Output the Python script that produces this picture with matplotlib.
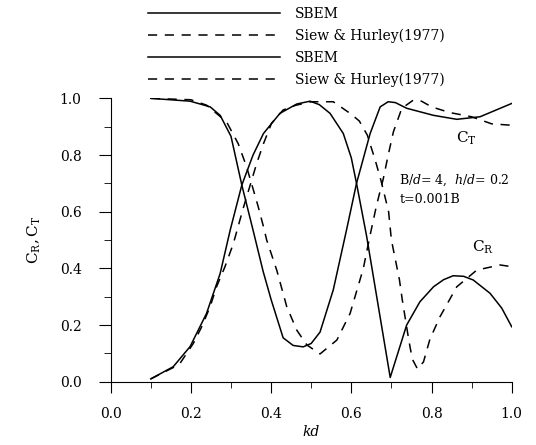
#!/usr/bin/env python3
import matplotlib

matplotlib.use("Agg")
import matplotlib.pyplot as plt
from matplotlib.ticker import MultipleLocator

plt.rcParams["font.family"] = "DejaVu Serif"
plt.rcParams["mathtext.fontset"] = "dejavuserif"

# SBEM, reflection coefficient
KD_CR_SBEM = [0.10, 0.156, 0.198, 0.239, 0.273, 0.298, 0.327, 0.355, 0.381, 0.422, 0.464,
              0.497, 0.520, 0.547, 0.580, 0.600, 0.613, 0.638, 0.697, 0.738, 0.771,
              0.805, 0.830, 0.854, 0.880, 0.904, 0.946, 0.975, 1.00]
CR_SBEM = [0.010, 0.053, 0.124, 0.241, 0.382, 0.535, 0.694, 0.800, 0.876, 0.947, 0.980,
           0.990, 0.978, 0.947, 0.876, 0.790, 0.700, 0.515, 0.015, 0.200, 0.282,
           0.335, 0.360, 0.374, 0.372, 0.359, 0.312, 0.260, 0.194]

# SBEM, transmission coefficient
KD_CT_SBEM = [0.10, 0.198, 0.248, 0.273, 0.300, 0.327, 0.355, 0.380, 0.400, 0.430, 0.455,
              0.480, 0.500, 0.522, 0.555, 0.588, 0.613, 0.647, 0.672, 0.692, 0.710,
              0.738, 0.805, 0.863, 0.921, 1.00]
CT_SBEM = [1.000, 0.990, 0.970, 0.940, 0.866, 0.694, 0.535, 0.390, 0.290, 0.155, 0.128,
           0.123, 0.135, 0.175, 0.324, 0.535, 0.700, 0.876, 0.970, 0.988, 0.985,
           0.965, 0.940, 0.926, 0.935, 0.982]

# Siew & Hurley (1977), reflection coefficient
KD_CR_SH = [0.10, 0.156, 0.173, 0.206, 0.227, 0.248, 0.264, 0.285, 0.306, 0.330, 0.347,
            0.364, 0.381, 0.401, 0.430, 0.460, 0.500, 0.555, 0.597, 0.620, 0.640,
            0.660, 0.674, 0.693, 0.700, 0.710, 0.720, 0.727, 0.743, 0.752, 0.765,
            0.780, 0.796, 0.821, 0.863, 0.913, 0.971, 1.00]
CR_SH = [0.010, 0.050, 0.065, 0.135, 0.194, 0.265, 0.335, 0.406, 0.488, 0.610, 0.690,
         0.770, 0.840, 0.912, 0.959, 0.975, 0.988, 0.988, 0.947, 0.920, 0.870,
         0.780, 0.710, 0.600, 0.500, 0.430, 0.360, 0.290, 0.150, 0.080, 0.045,
         0.070, 0.150, 0.229, 0.335, 0.394, 0.412, 0.406]

# Siew & Hurley (1977), transmission coefficient
KD_CT_SH = [0.10, 0.200, 0.239, 0.289, 0.318, 0.339, 0.356, 0.368, 0.381, 0.389, 0.414,
            0.439, 0.464, 0.489, 0.522, 0.564, 0.597, 0.630, 0.647, 0.663, 0.680,
            0.692, 0.705, 0.726, 0.755, 0.775, 0.800, 0.845, 0.900, 0.950, 1.00]
CT_SH = [1.000, 0.995, 0.976, 0.917, 0.840, 0.758, 0.676, 0.617, 0.547, 0.500, 0.394,
         0.265, 0.182, 0.130, 0.098, 0.147, 0.241, 0.400, 0.518, 0.623, 0.718,
         0.800, 0.882, 0.965, 0.994, 0.990, 0.970, 0.950, 0.935, 0.910, 0.905]

DASH = (0, (6, 5))


def main():
    fig = plt.figure(figsize=(5.36, 4.45), dpi=100)
    ax = fig.add_axes([0.2065, 0.1422, 0.7482, 0.6368])

    l1, = ax.plot(KD_CR_SBEM, CR_SBEM, color="black", lw=1.1)
    l2, = ax.plot(KD_CR_SH, CR_SH, color="black", lw=1.1, linestyle=DASH)
    l3, = ax.plot(KD_CT_SBEM, CT_SBEM, color="black", lw=1.1)
    l4, = ax.plot(KD_CT_SH, CT_SH, color="black", lw=1.1, linestyle=DASH)

    ax.set_xlim(0, 1.0)
    ax.set_ylim(0, 1.0)
    ax.spines["top"].set_visible(False)
    ax.spines["right"].set_visible(False)
    ax.xaxis.set_major_locator(MultipleLocator(0.2))
    ax.xaxis.set_minor_locator(MultipleLocator(0.1))
    ax.yaxis.set_major_locator(MultipleLocator(0.2))
    ax.yaxis.set_minor_locator(MultipleLocator(0.1))
    ax.xaxis.set_major_formatter(lambda v, p: f"{v:.1f}")
    ax.yaxis.set_major_formatter(lambda v, p: f"{v:.1f}")
    ax.tick_params(axis="x", which="major", direction="out", length=8, labelsize=10, pad=10)
    ax.tick_params(axis="x", which="minor", direction="out", length=4)
    ax.tick_params(axis="y", which="major", direction="out", length=9, labelsize=10, pad=12)
    ax.tick_params(axis="y", which="minor", direction="out", length=5)

    ax.set_xlabel("kd", fontstyle="italic", fontsize=10, labelpad=3)
    ax.set_ylabel(r"$\mathrm{C_R, C_T}$", fontsize=11, labelpad=12)

    ax.text(0.862, 0.845, r"$\mathrm{C_T}$", fontsize=11)
    ax.text(0.72, 0.70, r"B/$d$= 4,  $h$/$d$= 0.2", fontsize=9)
    ax.text(0.72, 0.63, "t=0.001B", fontsize=9)
    ax.text(0.90, 0.46, r"$\mathrm{C_R}$", fontsize=11)

    fig.legend(
        [l1, l2, l3, l4],
        ["SBEM", "Siew & Hurley(1977)", "SBEM", "Siew & Hurley(1977)"],
        loc="upper left",
        bbox_to_anchor=(0.253, 1.012),
        frameon=False,
        fontsize=10,
        handlelength=9.5,
        handletextpad=1.1,
        labelspacing=0.55,
    )

    fig.savefig("out.png", dpi=100)


if __name__ == "__main__":
    main()
